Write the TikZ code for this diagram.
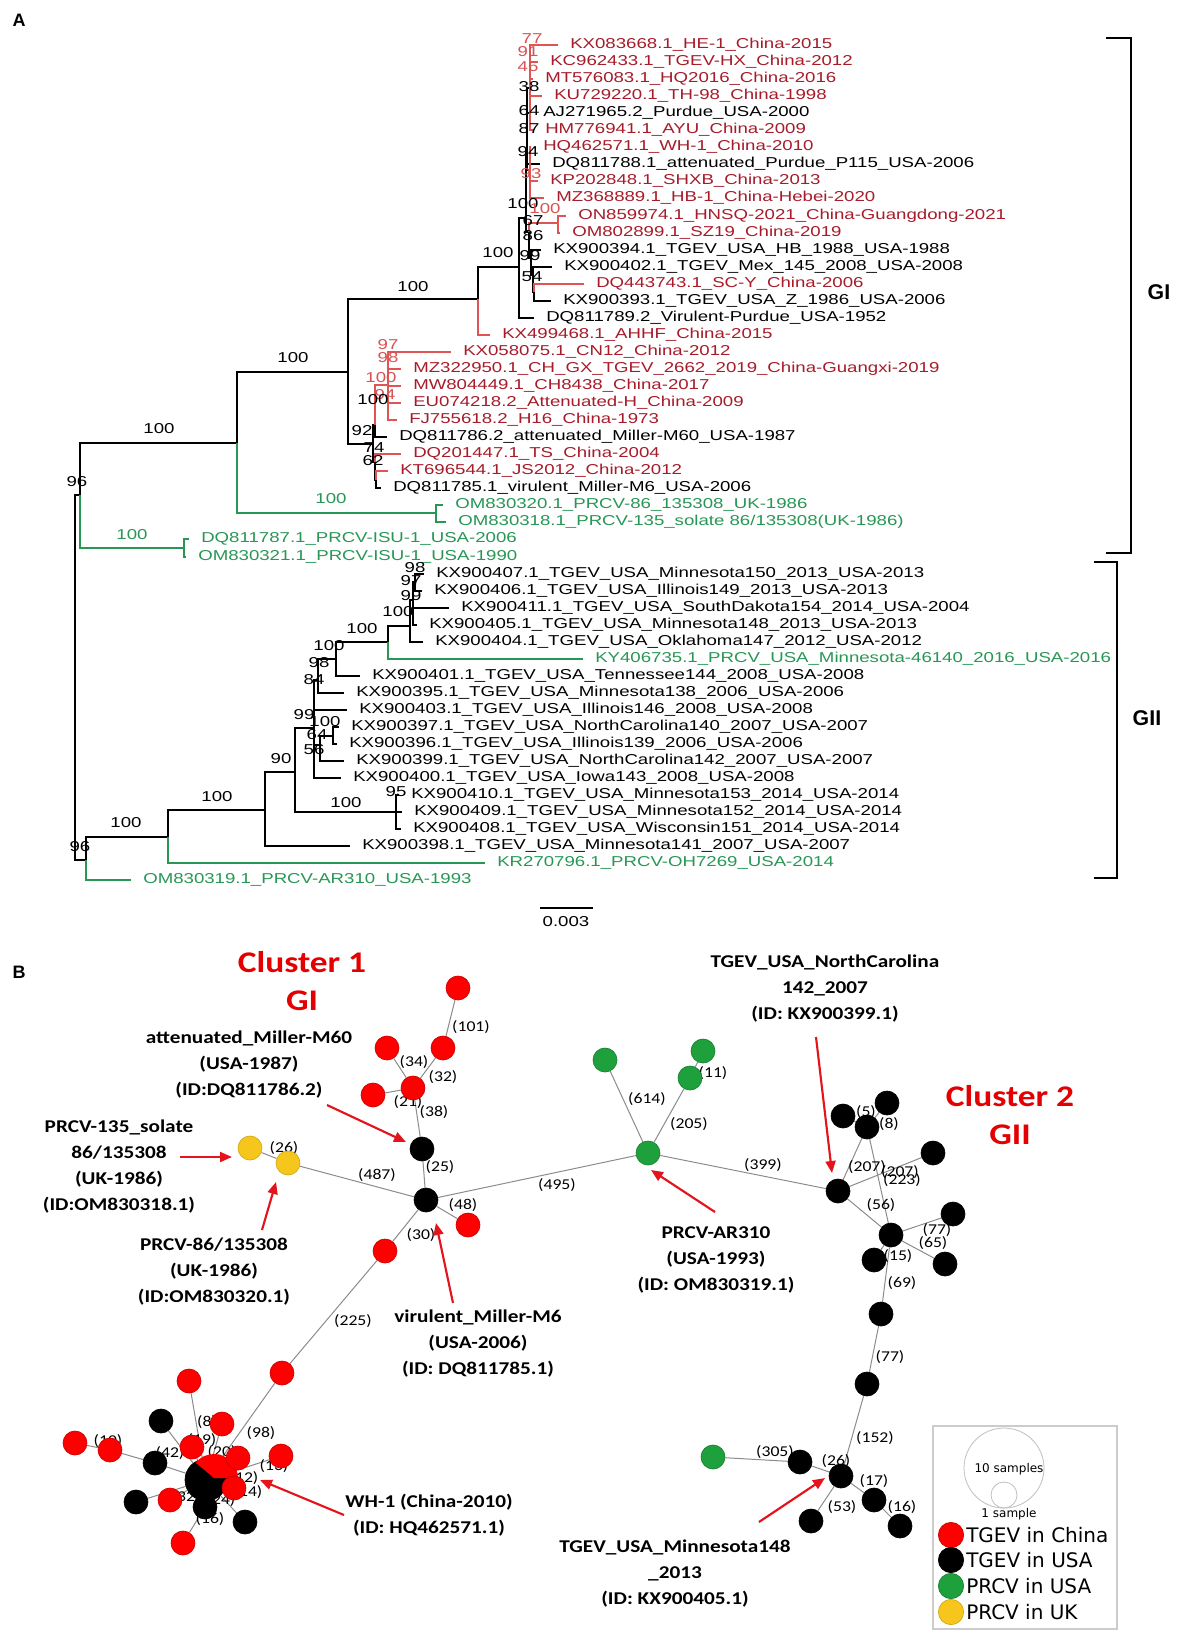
\documentclass[tikz,border=0pt]{standalone}
\usepackage{fontspec}
\setmainfont{Liberation Sans}
\newfontfamily\treefont{Liberation Sans}[FakeStretch=1.3]
\newfontfamily\callfont{Carlito}[FakeStretch=1.18]
\newfontfamily\legfont{DejaVu Sans}
\usetikzlibrary{arrows.meta,backgrounds}
\pgfdeclarelayer{bottom}
\pgfsetlayers{bottom,background,main}

\definecolor{tred}{RGB}{166,28,42}
\definecolor{tredline}{RGB}{224,84,84}
\definecolor{tredbs}{RGB}{214,84,84}
\definecolor{tgreen}{RGB}{40,150,85}
\definecolor{nred}{RGB}{255,0,0}
\definecolor{ngreen}{RGB}{30,160,60}
\definecolor{nyellow}{RGB}{246,198,28}
\definecolor{arred}{RGB}{228,20,28}
\definecolor{cred}{RGB}{228,0,0}
\definecolor{edgegray}{RGB}{140,140,140}

\tikzset{every picture/.style={line width=0.75pt}}

\begin{document}
\begin{tikzpicture}[x=0.75pt,y=0.75pt,yscale=-1,xscale=1,
  br/.style={draw=black,line width=0.9pt},
  brr/.style={draw=tredline,line width=0.9pt},
  brg/.style={draw=tgreen,line width=0.9pt},
  leaf/.style={anchor=west,inner xsep=9pt,inner ysep=0pt,text height=7.5pt,text depth=2pt,font=\treefont\fontsize{10.75}{12}\selectfont},
  bs/.style={inner sep=0pt,font=\treefont\fontsize{10.75}{12}\selectfont},
  brk/.style={draw=black,line width=1.5pt},
  sam/.style={circle,minimum size=18pt,inner sep=0pt,line width=0.5pt},
  cn/.style={sam,fill=nred,draw=nred!80!black},
  us/.style={sam,fill=black,draw=black},
  pu/.style={sam,fill=ngreen,draw=ngreen!80!black},
  uk/.style={sam,fill=nyellow,draw=nyellow!85!black},
  ed/.style={draw=edgegray,line width=0.75pt},
  elab/.style={inner sep=0pt,font=\callfont\fontsize{11.25}{12}\selectfont},
  note/.style={align=center,inner sep=0pt,font=\callfont\bfseries\fontsize{13.5}{19.5}\selectfont},
  clus/.style={align=center,inner sep=0pt,text=cred,font=\callfont\bfseries\fontsize{22.5}{28.5}\selectfont},
  arr/.style={draw=arred,line width=1.6pt,-{Triangle[length=9pt,width=7.5pt]}},
  legtxt/.style={anchor=west,inner sep=0pt,font=\legfont\fontsize{15}{16}\selectfont}
]
\begin{pgfonlayer}{bottom}
\fill[white] (0,0) rectangle (1183,1638);
\end{pgfonlayer}
\useasboundingbox (0,0) rectangle (1183,1638);

% Panel letters
\node[font=\bfseries\fontsize{13.5}{14}\selectfont] (pA) at (19,20) {A};
\node[font=\bfseries\fontsize{13.5}{14}\selectfont] (pB) at (19,972) {B};

%% ---------------- tree: inner nodes
\coordinate (nRoot) at (75,678);
\coordinate (nA) at (80,495);
\coordinate (nISU) at (184,548);
\coordinate (nGI) at (237,443);
\coordinate (nUK) at (436,513);
\coordinate (nG2) at (348,372);
\coordinate (nG3) at (478,299);
\coordinate (nG4) at (519,267);
\coordinate (nB100) at (526,218);
\coordinate (nTop) at (527,150);
\coordinate (nRedA) at (530,88);
\coordinate (nRedB) at (530,170);
\coordinate (nB67) at (529,232);
\coordinate (nR100) at (558,223);
\coordinate (nB86) at (531,258);
\coordinate (nB99) at (533,275);
\coordinate (nB54) at (534,292);
\coordinate (nM) at (373,444);
\coordinate (nM100) at (375,425);
\coordinate (nMred) at (388,385);
\coordinate (nM74) at (375,462);
\coordinate (nM62) at (376,480);
\coordinate (nB) at (86,860);
\coordinate (nC) at (168,837);
\coordinate (nD) at (265,810);
\coordinate (nE) at (295,772);
\coordinate (nG) at (396,812);
\coordinate (nF) at (314,728);
\coordinate (nF84) at (318,680);
\coordinate (nH) at (336,659);
\coordinate (nI) at (388,642);
\coordinate (nJ) at (410,626);
\coordinate (nK) at (413,600);
\coordinate (nL) at (415,582);
\coordinate (nF64) at (320,745);
\coordinate (nF100) at (333,736);

%% ---------------- tree: leaves
\node[leaf,text=tred] (l1) at (558,45) {KX083668.1\_HE-1\_China-2015};
\node[leaf,text=tred] (l2) at (538,62) {KC962433.1\_TGEV-HX\_China-2012};
\node[leaf,text=tred] (l3) at (533,79) {MT576083.1\_HQ2016\_China-2016};
\node[leaf,text=tred] (l4) at (542,96) {KU729220.1\_TH-98\_China-1998};
\node[leaf] (l5) at (531,113) {AJ271965.2\_Purdue\_USA-2000};
\node[leaf,text=tred] (l6) at (533,130) {HM776941.1\_AYU\_China-2009};
\node[leaf,text=tred] (l7) at (531,147) {HQ462571.1\_WH-1\_China-2010};
\node[leaf] (l8) at (540,164) {DQ811788.1\_attenuated\_Purdue\_P115\_USA-2006};
\node[leaf,text=tred] (l9) at (538,181) {KP202848.1\_SHXB\_China-2013};
\node[leaf,text=tred] (l10) at (544,198) {MZ368889.1\_HB-1\_China-Hebei-2020};
\node[leaf,text=tred] (l11) at (566,216) {ON859974.1\_HNSQ-2021\_China-Guangdong-2021};
\node[leaf,text=tred] (l12) at (560,233) {OM802899.1\_SZ19\_China-2019};
\node[leaf] (l13) at (541,250) {KX900394.1\_TGEV\_USA\_HB\_1988\_USA-1988};
\node[leaf] (l14) at (552,267) {KX900402.1\_TGEV\_Mex\_145\_2008\_USA-2008};
\node[leaf,text=tred] (l15) at (584,284) {DQ443743.1\_SC-Y\_China-2006};
\node[leaf] (l16) at (551,301) {KX900393.1\_TGEV\_USA\_Z\_1986\_USA-2006};
\node[leaf] (l17) at (534,318) {DQ811789.2\_Virulent-Purdue\_USA-1952};
\node[leaf,text=tred] (l18) at (490,335) {KX499468.1\_AHHF\_China-2015};
\node[leaf,text=tred] (l19) at (451,352) {KX058075.1\_CN12\_China-2012};
\node[leaf,text=tred] (l20) at (401,369) {MZ322950.1\_CH\_GX\_TGEV\_2662\_2019\_China-Guangxi-2019};
\node[leaf,text=tred] (l21) at (401,386) {MW804449.1\_CH8438\_China-2017};
\node[leaf,text=tred] (l22) at (401,403) {EU074218.2\_Attenuated-H\_China-2009};
\node[leaf,text=tred] (l23) at (397,420) {FJ755618.2\_H16\_China-1973};
\node[leaf] (l24) at (387,437) {DQ811786.2\_attenuated\_Miller-M60\_USA-1987};
\node[leaf,text=tred] (l25) at (401,454) {DQ201447.1\_TS\_China-2004};
\node[leaf,text=tred] (l26) at (388,471) {KT696544.1\_JS2012\_China-2012};
\node[leaf] (l27) at (381,488) {DQ811785.1\_virulent\_Miller-M6\_USA-2006};
\node[leaf,text=tgreen] (l28) at (443,505) {OM830320.1\_PRCV-86\_135308\_UK-1986};
\node[leaf,text=tgreen] (l29) at (446,522) {OM830318.1\_PRCV-135\_solate 86/135308(UK-1986)};
\node[leaf,text=tgreen] (l30) at (189,539) {DQ811787.1\_PRCV-ISU-1\_USA-2006};
\node[leaf,text=tgreen] (l31) at (186,557) {OM830321.1\_PRCV-ISU-1\_USA-1990};
\node[leaf] (l32) at (424,574) {KX900407.1\_TGEV\_USA\_Minnesota150\_2013\_USA-2013};
\node[leaf] (l33) at (422,591) {KX900406.1\_TGEV\_USA\_Illinois149\_2013\_USA-2013};
\node[leaf] (l34) at (449,608) {KX900411.1\_TGEV\_USA\_SouthDakota154\_2014\_USA-2004};
\node[leaf] (l35) at (417,625) {KX900405.1\_TGEV\_USA\_Minnesota148\_2013\_USA-2013};
\node[leaf] (l36) at (423,642) {KX900404.1\_TGEV\_USA\_Oklahoma147\_2012\_USA-2012};
\node[leaf,text=tgreen] (l37) at (583,659) {KY406735.1\_PRCV\_USA\_Minnesota-46140\_2016\_USA-2016};
\node[leaf] (l38) at (360,676) {KX900401.1\_TGEV\_USA\_Tennessee144\_2008\_USA-2008};
\node[leaf] (l39) at (344,693) {KX900395.1\_TGEV\_USA\_Minnesota138\_2006\_USA-2006};
\node[leaf] (l40) at (347,710) {KX900403.1\_TGEV\_USA\_Illinois146\_2008\_USA-2008};
\node[leaf] (l41) at (339,727) {KX900397.1\_TGEV\_USA\_NorthCarolina140\_2007\_USA-2007};
\node[leaf] (l42) at (337,744) {KX900396.1\_TGEV\_USA\_Illinois139\_2006\_USA-2006};
\node[leaf] (l43) at (344,761) {KX900399.1\_TGEV\_USA\_NorthCarolina142\_2007\_USA-2007};
\node[leaf] (l44) at (341,778) {KX900400.1\_TGEV\_USA\_Iowa143\_2008\_USA-2008};
\node[leaf] (l45) at (399,795) {KX900410.1\_TGEV\_USA\_Minnesota153\_2014\_USA-2014};
\node[leaf] (l46) at (402,812) {KX900409.1\_TGEV\_USA\_Minnesota152\_2014\_USA-2014};
\node[leaf] (l47) at (401,829) {KX900408.1\_TGEV\_USA\_Wisconsin151\_2014\_USA-2014};
\node[leaf] (l48) at (350,846) {KX900398.1\_TGEV\_USA\_Minnesota141\_2007\_USA-2007};
\node[leaf,text=tgreen] (l49) at (485,863) {KR270796.1\_PRCV-OH7269\_USA-2014};
\node[leaf,text=tgreen] (l50) at (131,880) {OM830319.1\_PRCV-AR310\_USA-1993};

%% ---------------- tree: branches
\draw[br] (nRoot) |- (nA);
\draw[br] (nRoot) |- (nB);
\draw[br] (nA) |- (nGI);
\draw[brg] (nA) |- (nISU);
\draw[brg] (nISU) |- (l30.west);
\draw[brg] (nISU) |- (l31.west);
\draw[br] (nGI) |- (nG2);
\draw[brg] (nGI) |- (nUK);
\draw[brg] (nUK) |- (l28.west);
\draw[brg] (nUK) |- (l29.west);
\draw[br] (nG2) |- (nG3);
\draw[br] (nG2) |- (nM);
\draw[br] (nG3) |- (nG4);
\draw[brr] (nG3) |- (l18.west);
\draw[br] (nG4) |- (nB100);
\draw[br] (nG4) |- (l17.west);
\draw[br] (nB100) |- (nTop);
\draw[br] (nB100) |- (nB67);
\draw[br] (nTop) |- (nRedA);
\draw[br] (nTop) |- (nRedB);
\draw[br] (nTop) |- (l5.west);
\draw[br] (nTop) |- (l8.west);
\draw[brr] (nRedA) |- (l1.west);
\draw[brr] (nRedA) |- (l2.west);
\draw[brr] (nRedA) |- (l3.west);
\draw[brr] (nRedA) |- (l4.west);
\draw[brr] (nRedA) |- (l6.west);
\draw[brr] (nRedB) |- (l7.west);
\draw[brr] (nRedB) |- (l9.west);
\draw[brr] (nRedB) |- (l10.west);
\draw[brr] (nB67) |- (nR100);
\draw[br] (nB67) |- (nB86);
\draw[brr] (nR100) |- (l11.west);
\draw[brr] (nR100) |- (l12.west);
\draw[br] (nB86) |- (l13.west);
\draw[br] (nB86) |- (nB99);
\draw[br] (nB99) |- (l14.west);
\draw[br] (nB99) |- (nB54);
\draw[brr] (nB54) |- (l15.west);
\draw[br] (nB54) |- (l16.west);
\draw[br] (nM) |- (nM100);
\draw[br] (nM) |- (nM74);
\draw[brr] (nM100) |- (nMred);
\draw[br] (nM100) |- (l24.west);
\draw[brr] (nMred) |- (l19.west);
\draw[brr] (nMred) |- (l20.west);
\draw[brr] (nMred) |- (l21.west);
\draw[brr] (nMred) |- (l22.west);
\draw[brr] (nMred) |- (l23.west);
\draw[brr] (nM74) |- (l25.west);
\draw[br] (nM74) |- (nM62);
\draw[brr] (nM62) |- (l26.west);
\draw[br] (nM62) |- (l27.west);
\draw[br] (nB) |- (nC);
\draw[brg] (nB) |- (l50.west);
\draw[br] (nC) |- (nD);
\draw[brg] (nC) |- (l49.west);
\draw[br] (nD) |- (nE);
\draw[br] (nD) |- (l48.west);
\draw[br] (nE) |- (nF);
\draw[br] (nE) |- (nG);
\draw[br] (nG) |- (l45.west);
\draw[br] (nG) |- (l46.west);
\draw[br] (nG) |- (l47.west);
\draw[br] (nF) |- (nF84);
\draw[br] (nF) |- (l40.west);
\draw[br] (nF) |- (nF64);
\draw[br] (nF) |- (l44.west);
\draw[br] (nF84) |- (nH);
\draw[br] (nF84) |- (l39.west);
\draw[br] (nH) |- (nI);
\draw[br] (nH) |- (l38.west);
\draw[br] (nI) |- (nJ);
\draw[brg] (nI) |- (l37.west);
\draw[br] (nJ) |- (nK);
\draw[br] (nJ) |- (l36.west);
\draw[br] (nK) |- (nL);
\draw[br] (nK) |- (l34.west);
\draw[br] (nK) |- (l35.west);
\draw[br] (nL) |- (l32.west);
\draw[br] (nL) |- (l33.west);
\draw[br] (nF64) |- (nF100);
\draw[br] (nF64) |- (l43.west);
\draw[br] (nF100) |- (l41.west);
\draw[br] (nF100) |- (l42.west);

%% ---------------- tree: bootstrap values
\node[bs,text=tredbs] (s77) at (532,39) {77};
\node[bs,text=tredbs] (s91) at (528,52) {91};
\node[bs,text=tredbs] (s46) at (528,67) {46};
\node[bs] (s38) at (529,87) {38};
\node[bs] (s64) at (529,111) {64};
\node[bs] (s87) at (529,129) {87};
\node[bs] (s94) at (528,152) {94};
\node[bs,text=tredbs] (s93) at (531,174) {93};
\node[bs] (s100a) at (523,204) {100};
\node[bs,text=tredbs] (s100b) at (545,209) {100};
\node[bs] (s67) at (533,221) {67};
\node[bs] (s86) at (533,236) {86};
\node[bs] (s99a) at (530,256) {99};
\node[bs] (s54) at (532,277) {54};
\node[bs] (s100c) at (498,253) {100};
\node[bs] (s100d) at (413,287) {100};
\node[bs] (s100e) at (293,358) {100};
\node[bs] (s100f) at (159,429) {100};
\node[bs] (s96a) at (77,482) {96};
\node[bs,text=tredbs] (s97a) at (388,345) {97};
\node[bs,text=tredbs] (s98a) at (388,358) {98};
\node[bs,text=tredbs] (s100g) at (381,378) {100};
\node[bs,text=tredbs] (s94b) at (385,395) {94};
\node[bs] (s100h) at (373,400) {100};
\node[bs] (s92) at (362,431) {92};
\node[bs] (s74) at (374,448) {74};
\node[bs] (s62) at (373,461) {62};
\node[bs,text=tgreen] (s100i) at (331,499) {100};
\node[bs,text=tgreen] (s100j) at (132,535) {100};
\node[bs] (s98b) at (415,568) {98};
\node[bs] (s97b) at (411,581) {97};
\node[bs] (s99b) at (411,596) {99};
\node[bs] (s100k) at (398,612) {100};
\node[bs] (s100l) at (362,629) {100};
\node[bs] (s100m) at (329,646) {100};
\node[bs] (s98c) at (319,663) {98};
\node[bs] (s84) at (314,680) {84};
\node[bs] (s99c) at (304,715) {99};
\node[bs] (s100n) at (325,722) {100};
\node[bs] (s64b) at (317,735) {64};
\node[bs] (s56) at (314,750) {56};
\node[bs] (s90) at (281,759) {90};
\node[bs] (s95) at (396,792) {95};
\node[bs] (s100o) at (217,797) {100};
\node[bs] (s100p) at (346,803) {100};
\node[bs] (s100q) at (126,823) {100};
\node[bs] (s96b) at (80,847) {96};

% scale bar
\coordinate (sbL) at (540,908);
\coordinate (sbR) at (593,908);
\draw[br] (sbL) -- (sbR);
\node[bs] (sbT) at (566,922) {0.003};

% genotype brackets
\coordinate (giA) at (1106,38);
\coordinate (giB) at (1131,38);
\coordinate (giC) at (1131,553);
\coordinate (giD) at (1106,553);
\draw[brk] (giA) -- (giB) -- (giC) -- (giD);
\node[anchor=west,font=\bfseries\fontsize{16}{17}\selectfont] (tGI) at (1143,292) {GI};
\coordinate (giiA) at (1094,562);
\coordinate (giiB) at (1117,562);
\coordinate (giiC) at (1117,878);
\coordinate (giiD) at (1094,878);
\draw[brk] (giiA) -- (giiB) -- (giiC) -- (giiD);
\node[anchor=west,font=\bfseries\fontsize{16}{17}\selectfont] (tGII) at (1128,718) {GII};

%% ---------------- network: samples
% cluster 1
\node[cn] (r1) at (458,988) {};
\node[cn] (r2) at (443,1048) {};
\node[cn] (r3) at (387,1048) {};
\node[cn] (r5) at (373,1095) {};
\node[cn] (r4) at (413,1088) {};
\node[us] (k1) at (422,1149) {};
\node[us] (k2) at (426,1200) {};
\node[cn] (r6) at (468,1225) {};
\node[cn] (r7) at (385,1251) {};
\node[uk] (y1) at (250,1148) {};
\node[uk] (y2) at (288,1163) {};
\node[cn] (r8) at (282,1373) {};
% WH-1 group
\node[us,minimum size=31.5pt] (hub) at (206,1480) {};
\fill[nred] (214,1478) -- ++(0:24) arc[start angle=0,end angle=-140,radius=24] -- cycle;
\node[us] (kA) at (161,1421) {};
\node[cn] (rA) at (189,1381) {};
\node[cn] (rB) at (222,1424) {};
\node[cn] (rC) at (75,1443) {};
\node[cn] (rD) at (110,1450) {};
\node[us] (kB) at (155,1463) {};
\node[cn] (rE) at (192,1447) {};
\node[cn] (rF) at (238,1458) {};
\node[cn] (rG) at (281,1456) {};
\node[us] (kC) at (136,1502) {};
\node[cn] (rI) at (170,1500) {};
\node[us] (kD) at (205,1507) {};
\node[cn] (rH) at (234,1488) {};
\node[us] (kE) at (245,1522) {};
\node[cn] (rJ) at (183,1543) {};
% PRCV in USA
\node[pu] (g1) at (605,1060) {};
\node[pu] (g2) at (703,1051) {};
\node[pu] (g3) at (690,1078) {};
\node[pu] (gh) at (648,1153) {};
\node[pu] (g5) at (713,1457) {};
% cluster 2
\node[us] (b1) at (838,1191) {};
\node[us] (b2) at (843,1116) {};
\node[us] (b3) at (887,1103) {};
\node[us] (b4) at (867,1127) {};
\node[us] (b5) at (933,1153) {};
\node[us] (b6) at (891,1235) {};
\node[us] (b7) at (953,1214) {};
\node[us] (b8) at (945,1264) {};
\node[us] (b9) at (874,1260) {};
\node[us] (b10) at (881,1314) {};
\node[us] (b11) at (867,1384) {};
\node[us] (b12) at (841,1476) {};
\node[us] (b13) at (800,1462) {};
\node[us] (b14) at (874,1500) {};
\node[us] (b15) at (900,1526) {};
\node[us] (b16) at (811,1521) {};

%% ---------------- network: links and mutation counts
\begin{pgfonlayer}{background}
\draw[ed] (r1) -- (r2);
\draw[ed] (r2) -- (r4);
\draw[ed] (r3) -- (r4);
\draw[ed] (r5) -- (r4);
\draw[ed] (r4) -- (k1);
\draw[ed] (k1) -- (k2);
\draw[ed] (y1) -- (y2);
\draw[ed] (y2) -- (k2);
\draw[ed] (k2) -- (r6);
\draw[ed] (k2) -- (r7);
\draw[ed] (r7) -- (r8);
\draw[ed] (k2) -- (gh);
\draw[ed] (r8) -- (hub);
\draw[ed] (rA) -- (hub);
\draw[ed] (kA) -- (hub);
\draw[ed] (rB) -- (hub);
\draw[ed] (rC) -- (rD);
\draw[ed] (rD) -- (kB);
\draw[ed] (kB) -- (hub);
\draw[ed] (rE) -- (hub);
\draw[ed] (rF) -- (hub);
\draw[ed] (rG) -- (hub);
\draw[ed] (rH) -- (hub);
\draw[ed] (kC) -- (hub);
\draw[ed] (rI) -- (hub);
\draw[ed] (kD) -- (hub);
\draw[ed] (kE) -- (hub);
\draw[ed] (rJ) -- (kD);
\draw[ed] (gh) -- (g1);
\draw[ed] (gh) -- (g3);
\draw[ed] (g3) -- (g2);
\draw[ed] (gh) -- (b1);
\draw[ed] (b1) -- (b4);
\draw[ed] (b1) -- (b5);
\draw[ed] (b1) -- (b6);
\draw[ed] (b4) -- (b6);
\draw[ed] (b4) -- (b2);
\draw[ed] (b4) -- (b3);
\draw[ed] (b6) -- (b7);
\draw[ed] (b6) -- (b8);
\draw[ed] (b6) -- (b9);
\draw[ed] (b6) -- (b10);
\draw[ed] (b10) -- (b11);
\draw[ed] (b11) -- (b12);
\draw[ed] (b12) -- (b13);
\draw[ed] (b13) -- (g5);
\draw[ed] (b12) -- (b14);
\draw[ed] (b14) -- (b15);
\draw[ed] (b12) -- (b16);
% Text Node
\node[elab] (m101) at (471,1027) {(101)};
\node[elab] (m34) at (414,1062) {(34)};
\node[elab] (m32) at (443,1077) {(32)};
\node[elab] (m21) at (408,1102) {(21)};
\node[elab] (m38) at (434,1112) {(38)};
\node[elab] (m25) at (440,1167) {(25)};
\node[elab] (m487) at (377,1175) {(487)};
\node[elab] (m48) at (463,1205) {(48)};
\node[elab] (m30) at (421,1235) {(30)};
\node[elab] (m26a) at (284,1148) {(26)};
\node[elab] (m495) at (557,1185) {(495)};
\node[elab] (m225) at (353,1321) {(225)};
\node[elab] (m10) at (108,1441) {(10)};
\node[elab] (m42) at (170,1453) {(42)};
\node[elab] (m8a) at (207,1422) {(8)};
\node[elab] (m19) at (202,1440) {(19)};
\node[elab] (m98) at (261,1433) {(98)};
\node[elab] (m13) at (274,1466) {(13)};
\node[elab] (m20) at (222,1452) {(20)};
\node[elab] (m12) at (244,1478) {(12)};
\node[elab] (m14) at (248,1492) {(14)};
\node[elab] (m32b) at (186,1497) {(32)};
\node[elab] (m24) at (221,1500) {(24)};
\node[elab] (m16a) at (210,1519) {(16)};
\node[elab] (m11) at (713,1073) {(11)};
\node[elab] (m614) at (647,1099) {(614)};
\node[elab] (m205) at (689,1124) {(205)};
\node[elab] (m399) at (763,1165) {(399)};
\node[elab] (m5) at (866,1112) {(5)};
\node[elab] (m8b) at (889,1124) {(8)};
\node[elab] (m207a) at (867,1167) {(207)};
\node[elab] (m207b) at (900,1172) {(207)};
\node[elab] (m223) at (902,1180) {(223)};
\node[elab] (m56) at (881,1205) {(56)};
\node[elab] (m77a) at (937,1230) {(77)};
\node[elab] (m65) at (933,1243) {(65)};
\node[elab] (m15) at (898,1256) {(15)};
\node[elab] (m69) at (902,1283) {(69)};
\node[elab] (m77b) at (890,1357) {(77)};
\node[elab] (m152) at (875,1438) {(152)};
\node[elab] (m26b) at (836,1461) {(26)};
\node[elab] (m305) at (775,1452) {(305)};
\node[elab] (m17) at (874,1481) {(17)};
\node[elab] (m16b) at (902,1507) {(16)};
\node[elab] (m53) at (842,1507) {(53)};
\end{pgfonlayer}

%% ---------------- network: cluster titles and callouts
\node[clus] (cl1) at (302,981) {Cluster 1\\GI};
\node[clus] (cl2) at (1010,1115) {Cluster 2\\GII};

\node[note] (tM60) at (249,1065) {attenuated\_Miller-M60\\(USA-1987)\\(ID:DQ811786.2)};
\node[note] (tP135) at (119,1167) {PRCV-135\_solate\\86/135308\\(UK-1986)\\(ID:OM830318.1)};
\node[note] (tP86) at (214,1272) {PRCV-86/135308\\(UK-1986)\\(ID:OM830320.1)};
\node[note] (tM6) at (478,1344) {virulent\_Miller-M6\\(USA-2006)\\(ID: DQ811785.1)};
\node[note] (tWH) at (429,1515) {WH-1 (China-2010)\\(ID: HQ462571.1)};
\node[note] (tNC) at (825,989) {TGEV\_USA\_NorthCarolina\\142\_2007\\(ID: KX900399.1)};
\node[note] (tAR) at (716,1260) {PRCV-AR310\\(USA-1993)\\(ID: OM830319.1)};
\node[note] (tMN) at (675,1574) {TGEV\_USA\_Minnesota148\\\_2013\\(ID: KX900405.1)};

\coordinate (aM60s) at (327,1105);
\coordinate (aM60t) at (406,1142);
\coordinate (aP135s) at (180,1157);
\coordinate (aP135t) at (232,1157);
\coordinate (aP86s) at (262,1230);
\coordinate (aP86t) at (276,1182);
\coordinate (aM6s) at (453,1303);
\coordinate (aM6t) at (436,1223);
\coordinate (aWHs) at (344,1515);
\coordinate (aWHt) at (260,1480);
\coordinate (aNCs) at (816,1037);
\coordinate (aNCt) at (832,1173);
\coordinate (aARs) at (715,1212);
\coordinate (aARt) at (651,1170);
\coordinate (aMNs) at (759,1522);
\coordinate (aMNt) at (825,1478);
\draw[arr] (aM60s) -- (aM60t);
\draw[arr] (aP135s) -- (aP135t);
\draw[arr] (aP86s) -- (aP86t);
\draw[arr] (aM6s) -- (aM6t);
\draw[arr] (aWHs) -- (aWHt);
\draw[arr] (aNCs) -- (aNCt);
\draw[arr] (aARs) -- (aARt);
\draw[arr] (aMNs) -- (aMNt);

%% ---------------- legend
\coordinate (lgA) at (933,1426);
\coordinate (lgB) at (1117,1629);
\draw[draw=black!20,line width=1pt] (lgA) rectangle (lgB);
\draw[draw=black!25,line width=0.6pt] (1004,1468) circle[radius=40];
\draw[draw=black!25,line width=0.6pt] (1004,1495) circle[radius=13];
\node[inner sep=0pt,font=\legfont\fontsize{9}{10}\selectfont] (lg10) at (1009,1469) {10 samples};
\node[inner sep=0pt,font=\legfont\fontsize{9}{10}\selectfont] (lg1) at (1009,1514) {1 sample};
\node[cn,minimum size=19pt] (lc1) at (951,1535) {};
\node[us,minimum size=19pt] (lc2) at (951,1560) {};
\node[pu,minimum size=19pt] (lc3) at (951,1586) {};
\node[uk,minimum size=19pt] (lc4) at (951,1612) {};
\node[legtxt] (lt1) at (966,1535) {TGEV in China};
\node[legtxt] (lt2) at (966,1560) {TGEV in USA};
\node[legtxt] (lt3) at (966,1586) {PRCV in USA};
\node[legtxt] (lt4) at (966,1612) {PRCV in UK};

\end{tikzpicture}
\end{document}
